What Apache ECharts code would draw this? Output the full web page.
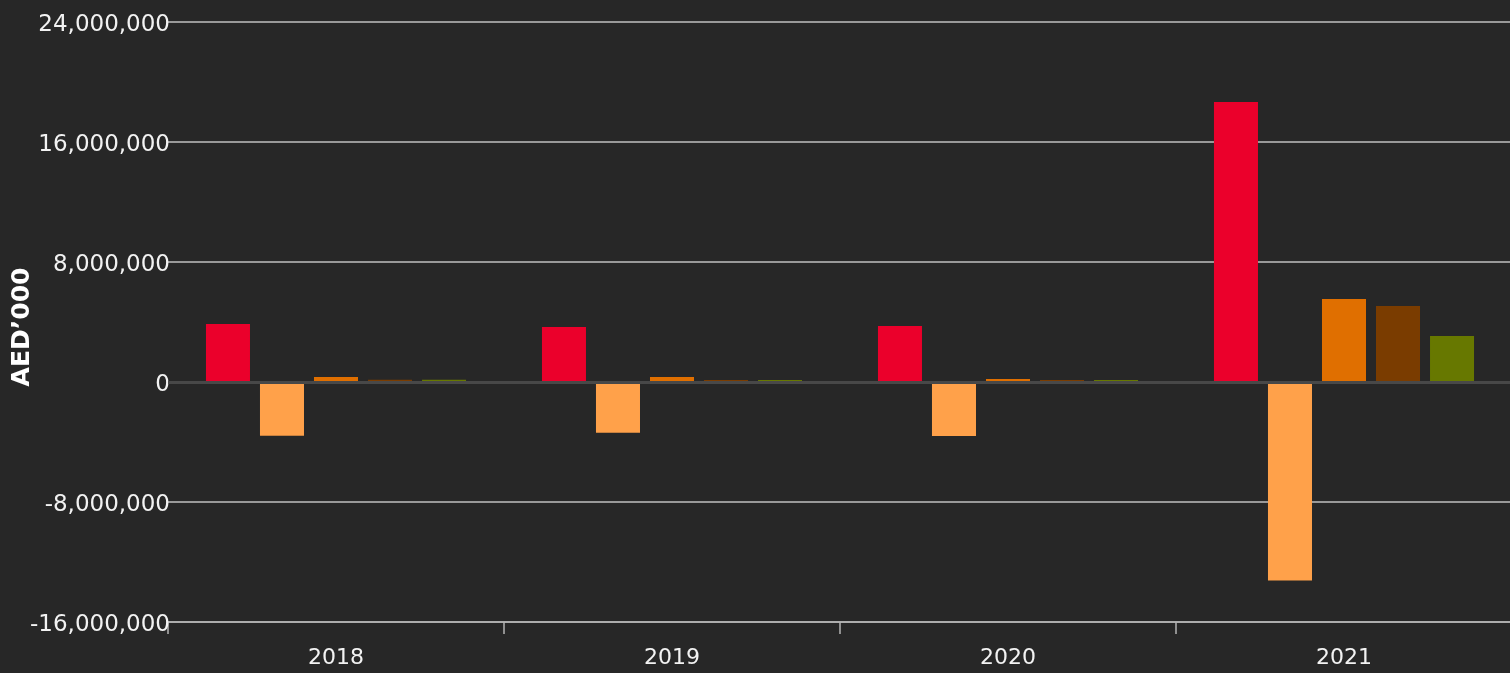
<!DOCTYPE html>
<html>
<head>
<meta charset="utf-8">
<script src="https://cdn.jsdelivr.net/npm/echarts@6/dist/echarts.min.js"></script>
<style>
html,body{margin:0;padding:0;background:#272727;}
#c{width:1510px;height:673px;}
</style>
</head>
<body>
<div id="c"></div>
<script>
var categories = ['2018', '2019', '2020', '2021'];
var seriesA = [3870000, 3670000, 3730000, 18670000];
var seriesB = [-3580000, -3380000, -3600000, -13240000];
var seriesC = [330000, 330000, 200000, 5530000];
var seriesD = [150000, 130000, 130000, 5070000];
var seriesE = [150000, 130000, 130000, 3070000];
var seriesNames = ['Series A', 'Series B', 'Series C', 'Series D', 'Series E'];
var colors = ['#EB002B', '#FFA14A', '#E06F00', '#7A3C00', '#677800'];
var yTicks = { min: -16000000, max: 24000000, interval: 8000000 };

var chart = echarts.init(document.getElementById('c'));
var values = [seriesA, seriesB, seriesC, seriesD, seriesE];
var series = values.map(function (v, i) {
  return {
    name: seriesNames[i],
    type: 'bar',
    data: v,
    barGap: '22.7%',
    barCategoryGap: '22.6%',
    itemStyle: { color: colors[i] },
    z: 3
  };
});
series.push({
  type: 'line',
  data: [],
  z: 1,
  silent: true,
  markLine: {
    silent: true,
    symbol: 'none',
    label: { show: false },
    lineStyle: { color: '#484848', width: 3, type: 'solid' },
    data: [{ yAxis: 0 }]
  }
});

chart.setOption({
  backgroundColor: '#272727',
  animation: false,
  grid: { left: 168, right: -2, top: 22, bottom: 51, outerBoundsMode: 'none', containLabel: false },
  xAxis: {
    type: 'category',
    data: categories,
    axisLine: { show: true, onZero: false, lineStyle: { color: '#b4b4b4', width: 1.5 } },
    axisTick: { show: true, length: 12, lineStyle: { color: '#b4b4b4', width: 1.5 } },
    axisLabel: { color: '#f2f2f2', fontSize: 22, fontFamily: 'DejaVu Sans', margin: 25 }
  },
  yAxis: {
    type: 'value',
    min: yTicks.min,
    max: yTicks.max,
    interval: yTicks.interval,
    name: 'AED\u2019000',
    nameLocation: 'middle',
    nameGap: 133,
    nameMoveOverlap: false,
    nameRotate: 90,
    nameTextStyle: { color: '#ffffff', fontSize: 25, fontWeight: 'bold', fontFamily: 'DejaVu Sans', padding: [0, 10, 0, 0] },
    axisLine: { show: false },
    axisTick: { show: false },
    axisLabel: {
      color: '#f2f2f2', fontSize: 23, fontFamily: 'DejaVu Sans', margin: -2,
      formatter: function (v) { return '{a|' + v.toLocaleString('en-US') + '}'; },
      rich: { a: { color: '#f2f2f2', fontSize: 23, fontFamily: 'DejaVu Sans', padding: [6, 0, 0, 0] } }
    },
    splitLine: {
      show: true,
      lineStyle: { color: ['#c0c0c0', '#c0c0c0', '#484848', '#c0c0c0', '#c0c0c0', '#c0c0c0'], width: 1.5 }
    }
  },
  series: series
});
</script>
</body>
</html>
